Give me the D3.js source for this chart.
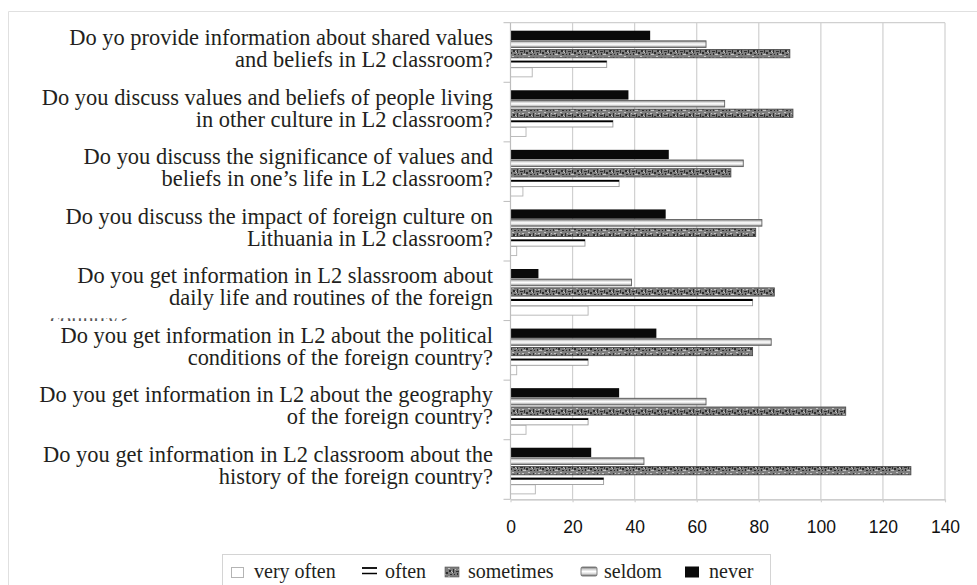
<!DOCTYPE html>
<html>
<head>
<meta charset="utf-8">
<script src="https://cdn.jsdelivr.net/npm/d3@7"></script>
<style>
  body { margin: 0; background: #fff; }
  svg { display: block; }
</style>
</head>
<body>
<div id="chart"></div>
<script>
// Datos del gráfico
const preguntas = [
    ["Do yo provide information about shared values", "and beliefs in L2 classroom?"],
    ["Do you discuss values and beliefs of people living", "in other culture in L2 classroom?"],
    ["Do you discuss the significance of values and", "beliefs in one\u2019s life in L2 classroom?"],
    ["Do you discuss the impact of foreign culture on", "Lithuania in L2 classroom?"],
    ["Do you get information in L2 slassroom about", "daily life and routines of the foreign"],
    ["Do you get information in L2 about the political", "conditions of the foreign country?"],
    ["Do you get information in L2 about the geography", "of the foreign country?"],
    ["Do you get information in L2 classroom about the", "history of the foreign country?"]
];
const series = ["very often", "often", "sometimes", "seldom", "never"];
const veryOften = [7, 5, 4, 2, 25, 2, 5, 8];
const often = [31, 33, 35, 24, 78, 25, 25, 30];
const sometimes = [90, 91, 71, 79, 85, 78, 108, 129];
const seldom = [63, 69, 75, 81, 39, 84, 63, 43];
const never = [45, 38, 51, 50, 9, 47, 35, 26];
const xTicks = [0, 20, 40, 60, 80, 100, 120, 140];

const valores = {
    "very often": veryOften,
    "often": often,
    "sometimes": sometimes,
    "seldom": seldom,
    "never": never
};

// Configuración
const width = 977, height = 585;
const fuenteSerif = "'Liberation Serif', 'Times New Roman', serif";
const fuenteSans = "'Liberation Sans', Arial, sans-serif";
const colorTexto = "#231f20";
const colorGrid = "#d0d0d0";

const svg = d3.select("#chart")
    .append("svg")
    .attr("width", width)
    .attr("height", height);

// Patrones y degradados
const defs = svg.append("defs");

const grad = defs.append("linearGradient")
    .attr("id", "gradSeldom")
    .attr("x1", 0).attr("y1", 0).attr("x2", 0).attr("y2", 1);
[[0, "#707070"], [0.25, "#cfcfcf"], [0.5, "#ffffff"], [0.72, "#dedede"], [1, "#767676"]]
    .forEach(s => grad.append("stop").attr("offset", s[0]).attr("stop-color", s[1]));

const pat = defs.append("pattern")
    .attr("id", "patSometimes")
    .attr("patternUnits", "userSpaceOnUse")
    .attr("width", 16).attr("height", 8);
pat.append("rect").attr("width", 16).attr("height", 8).attr("fill", "#7e7e7e");
pat.append("path").attr("fill", "#2e2e2e")
    .attr("d", "M1,2h2v2h-2zM5,1h1v4h-1zM8,3h3v1h-3zM12,2h1v3h-1zM14,4h2v2h-2zM2,6h2v1h-2zM9,5h1v2h-1zM6,6h1v1h-1z");
pat.append("path").attr("fill", "#c4c4c4")
    .attr("d", "M0,0h2v1h-2zM4,4h1v1h-1zM7,1h1v1h-1zM10,1h2v1h-2zM13,6h1v1h-1zM3,3h1v1h-1zM11,6h2v1h-2z");

const clip = defs.append("clipPath").attr("id", "cortePais");
clip.append("rect").attr("x", 40).attr("y", 318.3).attr("width", 90).attr("height", 2.6);

// Marco exterior
svg.append("path")
    .attr("d", "M8.5,585V11.5H977")
    .attr("fill", "none")
    .attr("stroke", "#e0e0e0");

// Escalas
const x = d3.scaleLinear()
    .domain([0, 140])
    .range([510.5, 945]);

const y = d3.scaleBand()
    .domain(d3.range(preguntas.length))
    .range([22.7, 499.3]);

const ySub = d3.scaleBand()
    .domain(["never", "seldom", "sometimes", "often", "very often"])
    .range([8, 54.7]);

// Rejilla
svg.append("g")
    .selectAll("line")
    .data(xTicks.slice(1))
    .enter()
    .append("line")
    .attr("x1", d => x(d)).attr("x2", d => x(d))
    .attr("y1", y.range()[0]).attr("y2", y.range()[1])
    .attr("stroke", colorGrid)
    .attr("stroke-width", 1.2);

svg.append("line")
    .attr("x1", x(0)).attr("x2", x(140))
    .attr("y1", y.range()[0]).attr("y2", y.range()[0])
    .attr("stroke", colorGrid)
    .attr("stroke-width", 1.2);

// Estilos de las barras
const estilo = {
    "never": { fill: "#0a0a0a", stroke: "none", dy: 0, h: 9.3 },
    "seldom": { fill: "url(#gradSeldom)", stroke: "#606060", dy: 0.8, h: 6.6 },
    "sometimes": { fill: "url(#patSometimes)", stroke: "#4a4a4a", dy: 0.2, h: 8.2 },
    "often": { fill: "#ffffff", stroke: "#9a9a9a", dy: 2.2, h: 6.5 },
    "very often": { fill: "#ffffff", stroke: "#b4b4b4", dy: -0.3, h: 9.1 }
};

// Barras
series.forEach(function(s) {
    const st = estilo[s];
    const g = svg.append("g").attr("class", "serie");
    g.selectAll("rect")
        .data(valores[s])
        .enter()
        .append("rect")
        .attr("x", x(0))
        .attr("y", (d, i) => y(i) + ySub(s) + st.dy)
        .attr("width", d => x(d) - x(0))
        .attr("height", st.h)
        .attr("fill", st.fill)
        .attr("stroke", st.stroke)
        .attr("stroke-width", 0.9);
    if (s === "often") {
        g.selectAll("line")
            .data(valores[s])
            .enter()
            .append("line")
            .attr("x1", x(0))
            .attr("x2", d => x(d))
            .attr("y1", (d, i) => y(i) + ySub(s) + st.dy + 0.8)
            .attr("y2", (d, i) => y(i) + ySub(s) + st.dy + 0.8)
            .attr("stroke", "#000")
            .attr("stroke-width", 1.8);
    }
});

// Eje vertical y marcas
svg.append("line")
    .attr("x1", x(0)).attr("x2", x(0))
    .attr("y1", y.range()[0]).attr("y2", y.range()[1])
    .attr("stroke", "#bdbdbd")
    .attr("stroke-width", 1.2);

svg.append("g")
    .selectAll("line")
    .data(d3.range(preguntas.length + 1))
    .enter()
    .append("line")
    .attr("x1", x(0) - 7).attr("x2", x(0))
    .attr("y1", d => d < preguntas.length ? y(d) : y.range()[1])
    .attr("y2", d => d < preguntas.length ? y(d) : y.range()[1])
    .attr("stroke", "#bdbdbd");

// Eje horizontal
const ejeX = svg.append("g")
    .attr("transform", `translate(0,${y.range()[1]})`)
    .call(d3.axisBottom(x)
        .tickValues(xTicks)
        .tickSize(3)
        .tickSizeOuter(0)
        .tickPadding(18)
        .tickFormat(d3.format("d")));
ejeX.select(".domain").attr("stroke", "#bdbdbd").attr("stroke-width", 1.2);
ejeX.selectAll(".tick line").attr("stroke", colorGrid).attr("stroke-width", 1.2);
ejeX.selectAll(".tick text")
    .style("font-family", fuenteSans)
    .style("font-size", "17.5px")
    .attr("fill", "#111");

// Tamaño de fuente de las etiquetas
const medida = svg.append("text")
    .style("font-family", fuenteSerif)
    .style("font-size", "100px")
    .text(preguntas[0][0]);
const fs = 100 * 424 / medida.node().getComputedTextLength();
medida.remove();

// Etiquetas de las preguntas
const etiquetas = svg.append("g")
    .style("font-family", fuenteSerif)
    .style("font-size", fs + "px")
    .attr("fill", colorTexto)
    .attr("text-anchor", "end");

preguntas.forEach(function(lineas, i) {
    const cy = y(i) + y.bandwidth() / 2;
    etiquetas.append("text").attr("x", 493).attr("y", cy - 7.5).text(lineas[0]);
    etiquetas.append("text").attr("x", 493).attr("y", cy + 14.5).text(lineas[1]);
});

// Tercera línea cortada ("country?")
svg.append("text")
    .attr("x", 50)
    .attr("y", 327)
    .attr("clip-path", "url(#cortePais)")
    .style("font-family", fuenteSerif)
    .style("font-size", fs + "px")
    .attr("fill", "#555")
    .text("country?");

// Leyenda
const leyenda = svg.append("g");
leyenda.append("rect")
    .attr("x", 222.5).attr("y", 554.5)
    .attr("width", 548).attr("height", 40)
    .attr("fill", "#fff")
    .attr("stroke", "#d4d4d4");

const legSwatch = [231, 362, 445, 581, 685];
const legTexto = [254, 385, 468, 604, 709];

series.forEach(function(s, i) {
    const sx = legSwatch[i];
    if (s === "very often") {
        leyenda.append("rect").attr("x", sx + 0.5).attr("y", 567.5).attr("width", 12).attr("height", 10)
            .attr("fill", "#fff").attr("stroke", "#b4b4b4");
    } else if (s === "often") {
        leyenda.append("line").attr("x1", sx).attr("x2", sx + 15).attr("y1", 568).attr("y2", 568)
            .attr("stroke", "#000").attr("stroke-width", 1.8);
        leyenda.append("line").attr("x1", sx).attr("x2", sx + 15).attr("y1", 573.5).attr("y2", 573.5)
            .attr("stroke", "#000").attr("stroke-width", 1.5);
    } else if (s === "sometimes") {
        leyenda.append("rect").attr("x", sx).attr("y", 567).attr("width", 14).attr("height", 10)
            .attr("fill", "url(#patSometimes)").attr("stroke", "#555").attr("stroke-width", 0.6);
    } else if (s === "seldom") {
        leyenda.append("rect").attr("x", sx).attr("y", 567).attr("width", 16).attr("height", 9).attr("rx", 1.5)
            .attr("fill", "url(#gradSeldom)").attr("stroke", "#606060").attr("stroke-width", 0.8);
    } else {
        leyenda.append("rect").attr("x", sx).attr("y", 566.5).attr("width", 14).attr("height", 11)
            .attr("fill", "#0a0a0a");
    }
    leyenda.append("text")
        .attr("x", legTexto[i])
        .attr("y", 578)
        .style("font-family", fuenteSerif)
        .style("font-size", "20px")
        .attr("fill", colorTexto)
        .text(s);
});
</script>
</body>
</html>
